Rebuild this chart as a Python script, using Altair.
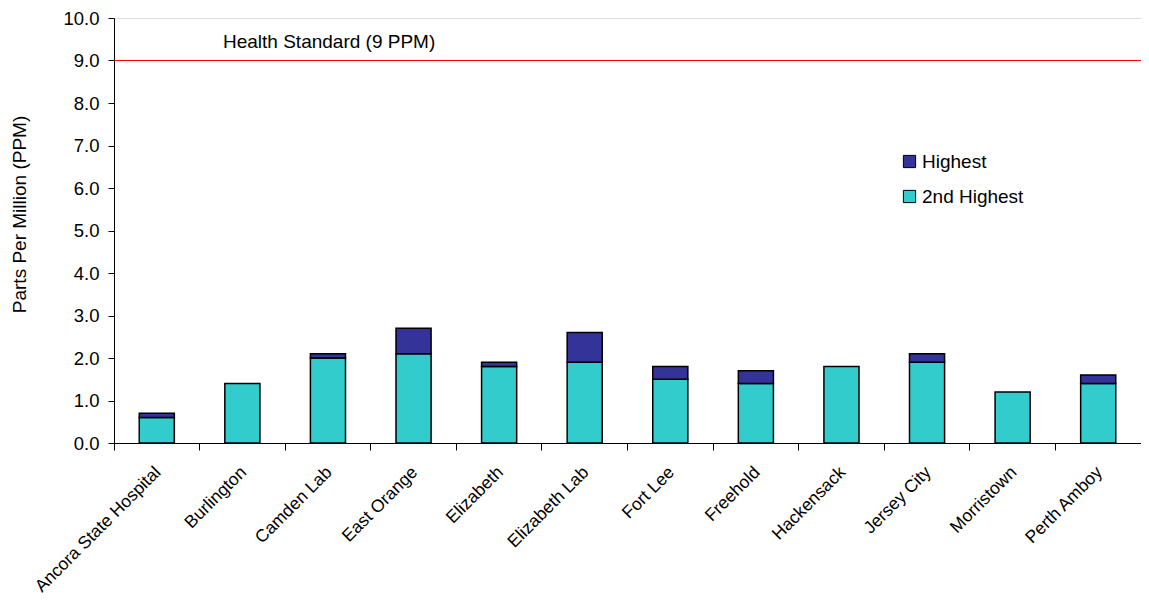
import altair as alt
import pandas as pd

sites = ["Ancora State Hospital", "Burlington", "Camden Lab", "East Orange", "Elizabeth",
         "Elizabeth Lab", "Fort Lee", "Freehold", "Hackensack", "Jersey City",
         "Morristown", "Perth Amboy"]
second_highest = [0.6, 1.4, 2.0, 2.1, 1.8, 1.9, 1.5, 1.4, 1.8, 1.9, 1.2, 1.4]
highest = [0.7, 1.4, 2.1, 2.7, 1.9, 2.6, 1.8, 1.7, 1.8, 2.1, 1.2, 1.6]
series_names = ["Highest", "2nd Highest"]
series_colors = ["#333399", "#33CCCC"]
standard_value = 9
standard_label = "Health Standard (9 PPM)"

rows = []
for s, lo, hi in zip(sites, second_highest, highest):
    rows.append({"site": s, "series": "2nd Highest", "low": 0.0, "high": lo})
    if hi > lo:
        rows.append({"site": s, "series": "Highest", "low": lo, "high": hi})
df = pd.DataFrame(rows)

FONT = "Liberation Sans"

x_scale = alt.Scale(paddingInner=0, paddingOuter=0)
y_scale = alt.Scale(domain=[0, 10])

bars = alt.Chart(df).mark_bar(
    width=alt.RelativeBandSize(0.41), stroke="black", strokeWidth=1.5
).encode(
    x=alt.X("site:N", sort=sites, scale=x_scale,
            axis=alt.Axis(title=None, orient="bottom", labelAngle=-45, ticks=False, domain=False,
                          labelFont=FONT, labelFontSize=17.5, labelColor="black",
                          labelPadding=20, labelOffset=-5, labelLimit=400)),
    y=alt.Y("low:Q", scale=y_scale,
            axis=alt.Axis(title="Parts Per Million (PPM)", values=list(range(0, 11)),
                          format=".1f", grid=False, domainColor="black", tickColor="black",
                          tickSize=6, labelFont=FONT, labelFontSize=18.5, labelColor="black",
                          labelPadding=9, titleFont=FONT, titleFontSize=19,
                          titleFontWeight="normal", titleColor="black", titlePadding=33,
                          titleY=196)),
    y2="high:Q",
    color=alt.Color("series:N",
                    scale=alt.Scale(domain=series_names, range=series_colors),
                    legend=alt.Legend(title=None, orient="none", legendX=786, legendY=134,
                                      symbolType="square", symbolSize=150,
                                      symbolStrokeColor="black", symbolStrokeWidth=1,
                                      labelFont=FONT, labelFontSize=19, labelColor="black",
                                      rowPadding=15, labelOffset=3)),
)

ticks = alt.Chart(pd.DataFrame({"site": sites})).mark_point(opacity=0).encode(
    x=alt.X("site:N", sort=sites, scale=x_scale,
            axis=alt.Axis(title=None, orient="bottom", labels=False, ticks=True,
                          bandPosition=0, tickSize=7, tickColor="black",
                          domainColor="black", grid=False)),
    y=alt.datum(0),
)

rule = alt.Chart(pd.DataFrame({"v": [standard_value]})).mark_rule(
    color="#FF0000", strokeWidth=1
).encode(y=alt.Y("v:Q", scale=y_scale))

label = alt.Chart(pd.DataFrame({"t": [standard_label], "v": [standard_value + 0.44]})).mark_text(
    align="left", baseline="middle", font=FONT, fontSize=19, color="black"
).encode(x=alt.value(109), y=alt.Y("v:Q", scale=y_scale), text="t:N")

chart = alt.layer(bars, ticks, rule, label).resolve_axis(x="independent").properties(
    width=1027, height=425,
    autosize=alt.AutoSizeParams(type="none"),
    padding={"left": 106, "top": 10, "right": 0, "bottom": 157},
).configure_view(stroke=None).configure(background="white")

chart.save("out.html", embed_options={"renderer": "svg", "actions": False})
